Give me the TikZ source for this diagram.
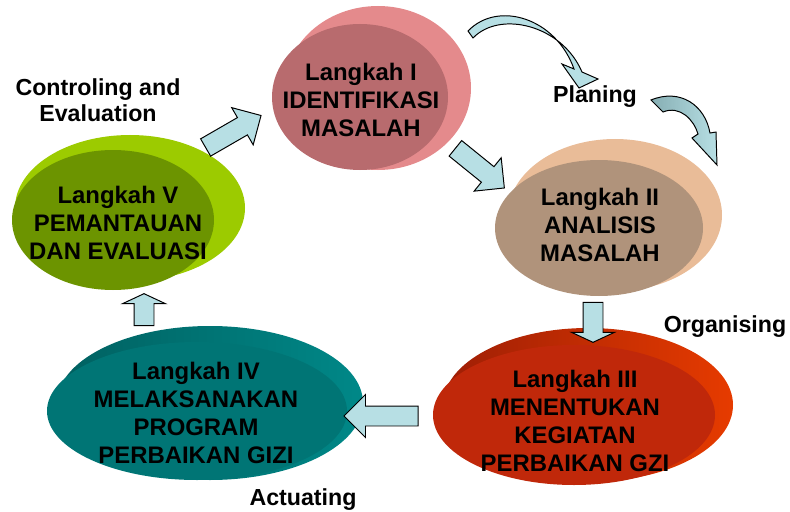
\documentclass[tikz,border=0pt]{standalone}
\usepackage{fontspec}
\setmainfont{Liberation Sans}
\usetikzlibrary{shapes.geometric,shapes.arrows}

\def\px{0.025cm}
\definecolor{pinkfront}{HTML}{B86B6E}
\definecolor{pinkback}{HTML}{E48A8C}
\definecolor{tanfront}{HTML}{B0937B}
\definecolor{tanback}{HTML}{E9BC98}
\definecolor{redfront}{HTML}{C0280A}
\definecolor{redleft}{HTML}{9E1E05}
\definecolor{redright}{HTML}{E63B00}
\definecolor{tealfront}{HTML}{007575}
\definecolor{tealleft}{HTML}{006060}
\definecolor{tealright}{HTML}{008888}
\definecolor{greenfront}{HTML}{6C9400}
\definecolor{greenback}{HTML}{9CCB00}
\definecolor{arrowblue}{HTML}{B7DFE4}
\definecolor{arrowdark}{HTML}{86AEB3}

\begin{document}
\begin{tikzpicture}[x=0.025cm, y=-0.025cm,
    disc/.style={ellipse, inner sep=0pt, draw=none},
    stagetext/.style={align=center, font=\fontsize{17}{20}\selectfont\bfseries},
    phase/.style={align=center, font=\fontsize{16.5}{18.5}\selectfont\bfseries},
    flow/.style={single arrow, draw=black, fill=arrowblue, line width=0.7pt, inner xsep=0pt, inner ysep=9.5*\px, single arrow head extend=11.5*\px},
    bendarrow/.style={draw=black, fill=arrowblue, line width=0.7pt}]

    \useasboundingbox (0,0) rectangle (790,512);

    % back discs
    \node[disc, fill=pinkback, minimum width=186*\px, minimum height=164*\px] (b1) at (378,88) {};
    \node[disc, fill=tanback, minimum width=214*\px, minimum height=152*\px] (b2) at (615,215) {};
    \node[disc, left color=redleft, right color=redright, minimum width=290*\px, minimum height=154*\px] (b3) at (588,405) {};
    \node[disc, left color=tealleft, right color=tealright, minimum width=306*\px, minimum height=154*\px] (b4) at (210,403) {};
    \node[disc, fill=greenback, minimum width=230*\px, minimum height=146*\px] (b5) at (130,208) {};

    % front discs
    \node[disc, fill=pinkfront, minimum width=176*\px, minimum height=146*\px] (e1) at (360,97) {};
    \node[disc, fill=tanfront, minimum width=208*\px, minimum height=136*\px] (e2) at (599,228) {};
    \node[disc, fill=redfront, minimum width=282*\px, minimum height=140*\px] (e3) at (574,415) {};
    \node[disc, fill=tealfront, minimum width=300*\px, minimum height=138*\px] (e4) at (197,411) {};
    \node[disc, fill=greenfront, minimum width=202*\px, minimum height=140*\px] (e5) at (113,220) {};

    \node[stagetext] (t1) at (361,100) {Langkah I\\IDENTIFIKASI\\MASALAH};
    \node[stagetext] (t2) at (600,225) {Langkah II\\ANALISIS\\MASALAH};
    \node[stagetext] (t3) at (575,421) {Langkah III\\MENENTUKAN\\KEGIATAN\\PERBAIKAN GZI};
    \node[stagetext] (t4) at (196,413) {Langkah IV\\MELAKSANAKAN\\PROGRAM\\PERBAIKAN GIZI};
    \node[stagetext] (t5) at (118,223) {Langkah V\\PEMANTAUAN\\DAN EVALUASI};

    \node[phase] (ph5) at (98,100) {Controling and\\Evaluation};
    \node[phase] (ph1) at (595,97) {Planing};
    \node[phase] (ph3) at (725,327) {Organising};
    \node[phase] (ph4) at (303,500) {Actuating};

    % block arrows
    \node[flow, rotate=30, minimum height=64*\px] (a51) at (229,134) {};
    \node[flow, rotate=-39, minimum height=63*\px] (a12) at (476,165) {};
    \node[flow, rotate=-90, single arrow tip angle=130, minimum height=40*\px] (a23) at (593,320) {};
    \node[flow, rotate=180, minimum height=74*\px] (a34) at (386,416) {};
    \node[flow, rotate=90, single arrow tip angle=130, minimum height=32*\px] (a45) at (144,312) {};

    % curved arrows
    \draw[bendarrow] (468,31) .. controls (498,0) and (556,18) .. (574,69) -- (562,64) -- (579,88)
        -- (598,79) -- (582,72) .. controls (562,25) and (500,10) .. (473,38) -- cycle;
    \draw[bendarrow, left color=arrowdark, right color=arrowblue] (651,100) .. controls (680,88) and (705,105) .. (710,133)
        -- (716,132) -- (717,165) -- (692,138) -- (698,134) .. controls (694,120) and (680,105) .. (663,112) -- cycle;

\end{tikzpicture}
\end{document}
